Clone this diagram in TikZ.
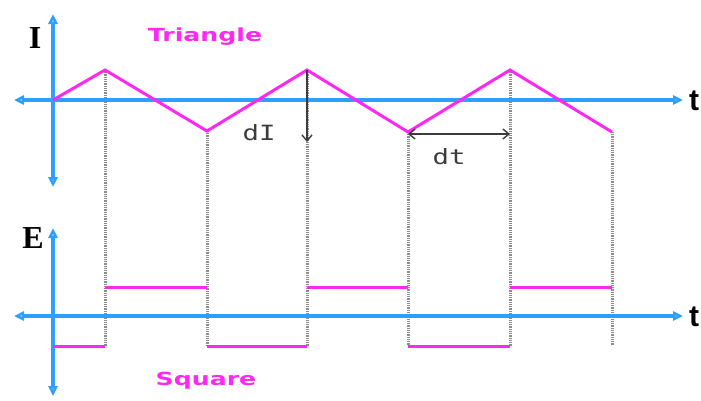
\documentclass[tikz,border=0pt]{standalone}
\usepackage{fontspec}
\setmainfont{Liberation Serif}
\newfontfamily\labfont{DejaVu Sans Mono}
\newfontfamily\titfont{DejaVu Sans}
\newfontfamily\tfont{Liberation Sans}
\usetikzlibrary{arrows.meta}
\definecolor{axisblue}{RGB}{45,160,255}
\definecolor{wavemag}{RGB}{255,40,240}
\definecolor{dotgray}{RGB}{140,140,140}
\definecolor{markgray}{RGB}{60,60,60}
\begin{document}
\begin{tikzpicture}[x=1pt,y=-1pt,
  axis/.style={draw=axisblue,line width=3.2pt,{Triangle[open,length=10pt,width=9pt]}-{Triangle[open,length=10pt,width=9pt]}},
  wave/.style={draw=wavemag,line width=3pt},
  guide/.style={draw=dotgray,line width=3pt,dash pattern=on 1pt off 0.8pt},
  measure/.style={draw=markgray,line width=1.4pt},
  axlabel/.style={font=\bfseries\fontsize{32}{32}\selectfont},
  wavelabel/.style={text=wavemag,font=\titfont\bfseries\fontsize{18}{18}\selectfont},
  dlabel/.style={text=markgray,font=\labfont\fontsize{21}{21}\selectfont}]
\useasboundingbox (0,0) rectangle (701,400);
% triangle vertices
\coordinate (p0) at (53,100);
\coordinate (p1) at (105,70);
\coordinate (p2) at (207,131);
\coordinate (p3) at (307,70);
\coordinate (p4) at (408,132);
\coordinate (p5) at (510,70);
\coordinate (p6) at (612,132);
% square wave bottoms
\coordinate (s1) at (105,346);
\coordinate (s2) at (207,346);
\coordinate (s3) at (307,346);
\coordinate (s4) at (408,346);
\coordinate (s5) at (510,346);
\coordinate (s6) at (612,346);
% guides
\foreach \i in {1,...,6}{ \draw[guide] (p\i) -- (s\i); }
% axes top
\coordinate (ta1) at (53,14);
\coordinate (ta2) at (53,187);
\coordinate (th1) at (14,100);
\coordinate (th2) at (683,100);
\draw[axis] (ta2) -- (ta1);
\draw[axis] (th1) -- (th2);
% axes bottom
\coordinate (ba1) at (53,228);
\coordinate (ba2) at (53,396);
\coordinate (bh1) at (14,316);
\coordinate (bh2) at (683,316);
\draw[axis] (ba2) -- (ba1);
\draw[axis] (bh1) -- (bh2);
% triangle wave
\draw[wave,line join=miter] (p0) -- (p1) -- (p2) -- (p3) -- (p4) -- (p5) -- (p6);
% square wave
\coordinate (q0) at (53,346);
\draw[wave] (q0) -- (105,346);
\draw[wave] (105,287) -- (207,287);
\draw[wave] (207,346) -- (307,346);
\draw[wave] (307,287) -- (408,287);
\draw[wave] (408,346) -- (510,346);
\draw[wave] (510,287) -- (612,287);
% dI and dt markers
\coordinate (dIe) at (307,142);
\draw[measure,-{Straight Barb[length=6pt,width=10pt]}] (p3) -- (dIe);
\coordinate (dtA) at (408,134);
\coordinate (dtB) at (510,134);
\draw[measure,{Straight Barb[length=6pt,width=10pt]}-{Straight Barb[length=6pt,width=10pt]}] (dtA) -- (dtB);
\node[dlabel] (dI) at (259,133) {\scalebox{1.3}[1]{dI}};
\node[dlabel] (dt) at (449,157) {\scalebox{1.3}[1]{dt}};
% labels
\node[axlabel] (I) at (35,38) {I};
\node[axlabel] (E) at (33,238) {E};
\node[font=\tfont\bfseries\fontsize{30}{30}\selectfont,anchor=west,inner sep=0pt] (t1) at (689,101) {t};
\node[font=\tfont\bfseries\fontsize{30}{30}\selectfont,anchor=west,inner sep=0pt] (t2) at (689,317) {t};
\node[wavelabel] (tri) at (205,37) {\scalebox{1.4}[1]{Triangle}};
\node[wavelabel] (sq) at (206,381) {\scalebox{1.4}[1]{Square}};
\end{tikzpicture}
\end{document}
